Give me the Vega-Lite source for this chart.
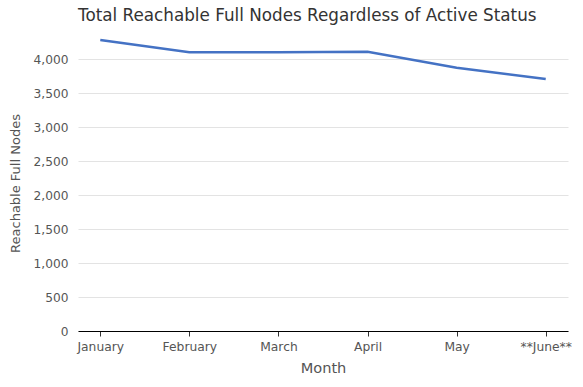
{
  "$schema": "https://vega.github.io/schema/vega-lite/v6.json",
  "width": 490,
  "height": 296,
  "autosize": {"type": "none"},
  "padding": {"left": 78, "top": 35, "right": 15, "bottom": 56},
  "background": "white",
  "title": {
    "text": "Total Reachable Full Nodes Regardless of Active Status",
    "anchor": "start",
    "frame": "group",
    "font": "DejaVu Sans",
    "fontSize": 16.8,
    "fontWeight": "normal",
    "color": "#333333",
    "offset": 10
  },
  "config": {
    "view": {"stroke": null},
    "font": "DejaVu Sans"
  },
  "data": {
    "values": [
      {"Month": "January", "Nodes": 4279},
      {"Month": "February", "Nodes": 4098},
      {"Month": "March", "Nodes": 4100},
      {"Month": "April", "Nodes": 4107},
      {"Month": "May", "Nodes": 3872},
      {"Month": "**June**", "Nodes": 3706}
    ]
  },
  "mark": {"type": "line", "color": "#4472C4", "strokeWidth": 2.5},
  "encoding": {
    "x": {
      "field": "Month",
      "type": "ordinal",
      "sort": null,
      "scale": {"type": "point", "padding": 0.25},
      "axis": {
        "title": "Month",
        "titleFontSize": 14.6,
        "titleFontWeight": "normal",
        "titleColor": "#555555",
        "titlePadding": 8,
        "labelAngle": 0,
        "labelFontSize": 12.3,
        "labelColor": "#555555",
        "labelPadding": 4,
        "domainColor": "#000000",
        "tickColor": "#333333",
        "tickSize": 5,
        "grid": false
      }
    },
    "y": {
      "field": "Nodes",
      "type": "quantitative",
      "scale": {"domain": [0, 4353], "nice": false},
      "axis": {
        "title": "Reachable Full Nodes",
        "titleFontSize": 13,
        "titleFontWeight": "normal",
        "titleColor": "#555555",
        "titlePadding": 11,
        "values": [0, 500, 1000, 1500, 2000, 2500, 3000, 3500, 4000],
        "format": ",.0f",
        "labelFontSize": 12.2,
        "labelColor": "#555555",
        "labelPadding": 10,
        "domain": false,
        "ticks": false,
        "gridColor": "#e3e3e3"
      }
    }
  }
}
